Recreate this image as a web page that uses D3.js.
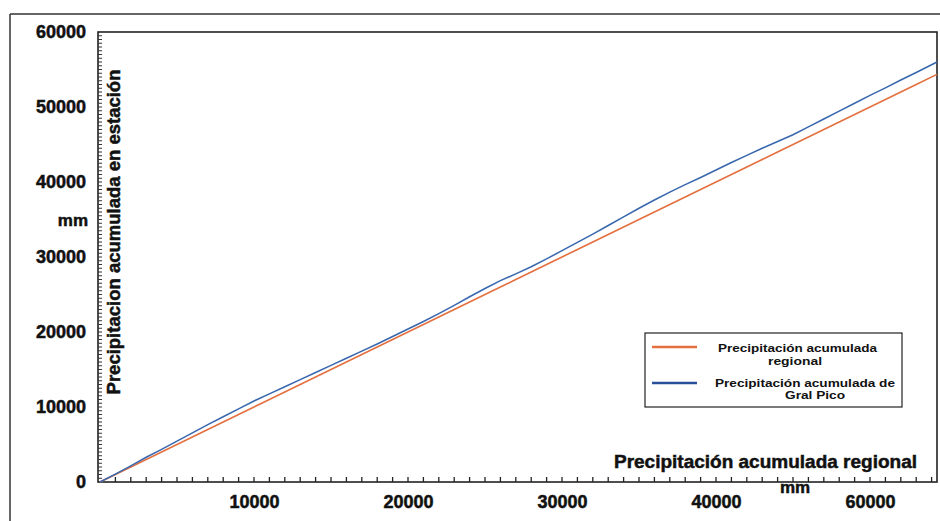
<!DOCTYPE html>
<html>
<head>
<meta charset="utf-8">
<script src="https://cdn.jsdelivr.net/npm/d3@7"></script>
<style>
  html, body { margin: 0; padding: 0; background: #fff; }
  svg text { font-family: "Liberation Sans", Arial, sans-serif; font-weight: bold; fill: #111; }
  svg text.heavy { stroke: #111; stroke-width: 0.5px; }
</style>
</head>
<body>
<svg id="chart" width="940" height="521"></svg>
<script>
// Regional cumulative precipitation (mm) – x axis
const regional = [0,1000,2000,3000,4000,5000,6000,7000,8000,9000,10000,11000,12000,13000,14000,15000,16000,17000,18000,19000,20000,21000,22000,23000,24000,25000,26000,27000,28000,29000,30000,31000,32000,33000,34000,35000,36000,37000,38000,39000,40000,41000,42000,43000,44000,45000,46000,47000,48000,49000,50000,51000,52000,53000,54350];
// Cumulative precipitation at Gral Pico station (mm)
const station = [0,1050,2150,3300,4350,5450,6550,7650,8700,9750,10800,11750,12700,13650,14600,15550,16500,17450,18400,19400,20400,21400,22450,23550,24700,25800,26850,27750,28700,29750,30850,31950,33050,34200,35350,36500,37600,38650,39650,40600,41600,42600,43550,44500,45400,46300,47350,48400,49450,50500,51550,52550,53600,54600,56000];

const yTickValues = [0,10000,20000,30000,40000,50000,60000];
const xTickValues = [10000,20000,30000,40000,50000];
const xTickLabels = ["10000","20000","30000","40000","60000"];
const xMinorTicks = d3.range(1000, 54001, 1000);
const yMinorTicks = d3.range(500, 60000, 500);

const seriesNames = ["Precipitación acumulada regional", "Precipitación acumulada de Gral Pico"];
const seriesColors = ["#e4703f", "#3a68ae"];

const svg = d3.select("#chart");

const x = d3.scaleLinear().domain([0, 54350]).range([100, 937]);
const y = d3.scaleLinear().domain([0, 60000]).range([482, 32]);

// outer frame
svg.append("line").attr("x1", 10).attr("x2", 940).attr("y1", 14).attr("y2", 14)
  .attr("stroke", "#333").attr("stroke-width", 1.5);
svg.append("line").attr("x1", 10).attr("x2", 10).attr("y1", 14).attr("y2", 521)
  .attr("stroke", "#333").attr("stroke-width", 1.5);

// plot frame
svg.append("rect").attr("x", 98).attr("y", 32).attr("width", 937 - 98).attr("height", 482 - 32)
  .attr("fill", "none").attr("stroke", "#222").attr("stroke-width", 1.6);

// minor ticks (drawn inward)
svg.append("g").selectAll("line").data(xMinorTicks).join("line")
  .attr("x1", d => x(d)).attr("x2", d => x(d)).attr("y1", 482).attr("y2", 477)
  .attr("stroke", "#222").attr("stroke-width", 1.3);
svg.append("g").selectAll("line").data(yMinorTicks).join("line")
  .attr("x1", 98).attr("x2", 102).attr("y1", d => y(d)).attr("y2", d => y(d))
  .attr("stroke", "#333").attr("stroke-width", 1);

// tick labels
svg.append("g").attr("transform", "translate(0,482)")
  .call(d3.axisBottom(x).tickValues(xTickValues).tickSize(0).tickPadding(13)
    .tickFormat((d, i) => xTickLabels[i]))
  .call(g => g.select(".domain").remove())
  .call(g => g.selectAll("text").attr("class", "heavy").style("font-size", "18px").style("font-family", null).attr("fill", "#111"));
svg.append("g").attr("transform", "translate(98,0)")
  .call(d3.axisLeft(y).tickValues(yTickValues).tickSize(0).tickPadding(12).tickFormat(d3.format("d")))
  .call(g => g.select(".domain").remove())
  .call(g => g.selectAll("text").attr("class", "heavy").style("font-size", "18px").style("font-family", null).attr("fill", "#111"));

// lines
const lineGen = d3.line().x(d => x(d[0])).y(d => y(d[1]));
const orangeData = regional.map(v => [v, v]);
const blueData = regional.map((v, i) => [v, station[i]]);
svg.append("path").datum(orangeData).attr("d", lineGen)
  .attr("fill", "none").attr("stroke", seriesColors[0]).attr("stroke-width", 1.6);
svg.append("path").datum(blueData).attr("d", lineGen)
  .attr("fill", "none").attr("stroke", seriesColors[1]).attr("stroke-width", 1.6);

// axis titles
svg.append("text").attr("class", "heavy").attr("transform", "translate(120,232) rotate(-90)")
  .attr("text-anchor", "middle").style("font-size", "18.5px")
  .text("Precipitacion acumulada en estación");
svg.append("text").attr("class", "heavy").attr("x", 88).attr("y", 226).attr("text-anchor", "end")
  .style("font-size", "17px").text("mm");
svg.append("text").attr("class", "heavy").attr("x", 917).attr("y", 468).attr("text-anchor", "end")
  .style("font-size", "19px").text("Precipitación acumulada regional");
svg.append("text").attr("class", "heavy").attr("x", 795).attr("y", 493).attr("text-anchor", "middle")
  .style("font-size", "17px").text("mm");

// legend
const lg = svg.append("g");
lg.append("rect").attr("x", 645).attr("y", 333).attr("width", 257).attr("height", 74)
  .attr("fill", "#fff").attr("stroke", "#222").attr("stroke-width", 1.2);
lg.append("line").attr("x1", 652).attr("x2", 697).attr("y1", 347).attr("y2", 347)
  .attr("stroke", seriesColors[0]).attr("stroke-width", 2.5);
lg.append("line").attr("x1", 652).attr("x2", 697).attr("y1", 383).attr("y2", 383)
  .attr("stroke", "#2a4f9a").attr("stroke-width", 2.5);
const legendLines = [
  { t: "Precipitación acumulada", x: 718, y: 352, w: 159 },
  { t: "regional", x: 768, y: 365, w: 54 },
  { t: "Precipitación acumulada de", x: 715, y: 387, w: 180 },
  { t: "Gral Pico", x: 785, y: 399, w: 60 }
];
lg.selectAll("text.leg").data(legendLines).join("text").attr("class", "leg")
  .attr("x", d => d.x).attr("y", d => d.y)
  .attr("textLength", d => d.w).attr("lengthAdjust", "spacingAndGlyphs")
  .style("font-size", "11px").text(d => d.t);
</script>
</body>
</html>
